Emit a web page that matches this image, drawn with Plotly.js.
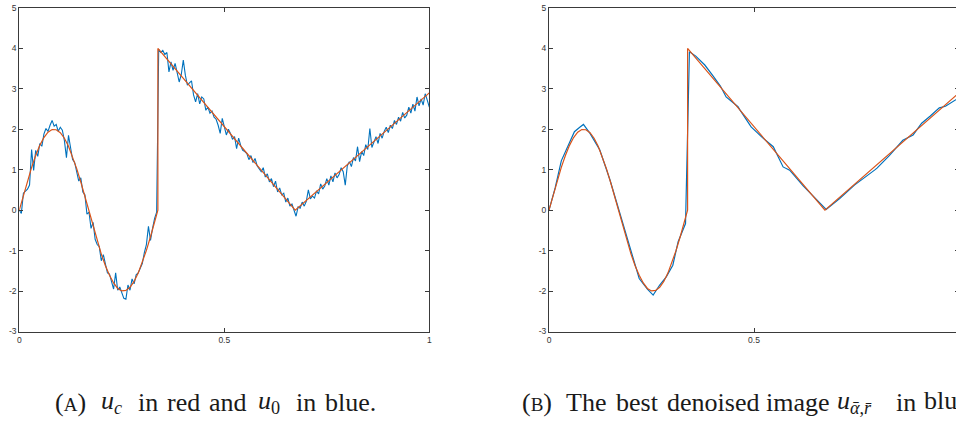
<!DOCTYPE html>
<html>
<head>
<meta charset="utf-8">
<script src="https://cdn.plot.ly/plotly-3.0.1.min.js"></script>
<style>
html, body { margin: 0; padding: 0; background: #fff; overflow: hidden; width: 956px; height: 421px; }
#chart { width: 962px; height: 421px; }
</style>
</head>
<body>
<div id="chart"></div>
<script>
// ---------- data ----------
const xTickVals = [0, 0.5, 1];
const xTickLabels = ["0", "0.5", "1"];
const xTickLabelsRight = ["0", "0.5", ""];   // the "1" of the right panel lies beyond the page edge
const yTickVals = [-3, -2, -1, 0, 1, 2, 3, 4, 5];
const yTickLabels = ["-3", "-2", "-1", "0", "1", "2", "3", "4", "5"];

// clean signal u_c (red)
const cleanX = [0, 0.01, 0.02, 0.03, 0.04, 0.05, 0.06, 0.07, 0.08, 0.09,
  0.10, 0.11, 0.12, 0.13, 0.14, 0.15, 0.16, 0.17, 0.18, 0.19,
  0.20, 0.21, 0.22, 0.23, 0.24, 0.25, 0.26, 0.27, 0.28, 0.29,
  0.30, 0.31, 0.32, 0.33, 0.335, 0.338, 0.338, 0.673, 1.0];
const cleanY = [0, 0.370, 0.727, 1.058, 1.354, 1.603, 1.796, 1.928, 1.993, 1.989,
  1.917, 1.779, 1.580, 1.327, 1.029, 0.698, 0.333, -0.037, -0.407, -0.760,
  -1.086, -1.372, -1.611, -1.800, -1.935, -1.996, -1.985, -1.906, -1.762, -1.556,
  -1.297, -0.995, -0.657, -0.296, -0.111, 0, 4.0, 0, 2.9];

// noisy signal u_0 (blue), sampled every 0.005 from 0 to 1
const noisyStart = 0;
const noisyStep = 0.005;
const noisyY = [
  0.00, -0.08, 0.42, 0.46, 0.52, 0.62, 1.50, 0.98, 1.48, 1.33,
  1.65, 1.58, 1.88, 2.02, 1.95, 2.10, 2.22, 2.08, 2.12, 1.95,
  2.05, 1.98, 1.72, 1.30, 1.85, 1.55, 1.25, 1.18, 0.95, 0.72,
  0.80, 0.45, 0.38, -0.10, -0.05, -0.45, -0.30, -0.72, -0.85, -0.90,
  -1.25, -1.10, -1.33, -1.55, -1.58, -1.78, -1.95, -1.55, -1.98, -1.90,
  -2.02, -2.18, -2.20, -1.85, -1.98, -1.70, -1.82, -1.60, -1.55, -1.45,
  -1.32, -1.05, -0.85, -0.40, -0.75, -0.45, -0.20, -0.05,
  3.98, 3.90, 3.95, 3.85, 3.90, 3.42, 3.67, 3.46, 3.63, 3.40,
  3.17, 3.35, 3.71, 3.34, 3.09, 3.15, 3.20, 2.85, 2.68, 2.88,
  2.63, 2.80, 2.75, 2.47, 2.55, 2.40, 2.45, 2.30, 2.25, 2.10,
  1.90, 2.27, 2.05, 1.86, 2.00, 1.90, 1.75, 1.82, 1.52, 1.78,
  1.60, 1.48, 1.45, 1.40, 1.25, 1.35, 1.18, 1.28, 1.10, 1.02,
  0.95, 1.05, 0.82, 0.90, 0.70, 0.78, 0.58, 0.72, 0.45, 0.55,
  0.38, 0.42, 0.20, 0.30, 0.10, 0.15, 0.02, -0.15, 0.08, 0.05,
  0.20, 0.10, 0.22, 0.50, 0.28, 0.35, 0.30, 0.48, 0.40, 0.65,
  0.52, 0.60, 0.78, 0.62, 0.85, 0.70, 0.92, 0.80, 0.88, 1.05,
  0.95, 0.62, 1.10, 1.20, 1.08, 1.30, 1.22, 1.57, 1.20, 1.45,
  1.35, 1.62, 1.50, 2.02, 1.55, 1.70, 1.82, 1.65, 1.90, 1.78,
  1.95, 2.05, 1.92, 2.10, 2.02, 2.22, 2.12, 2.30, 2.20, 2.42,
  2.28, 2.35, 2.55, 2.40, 2.62, 2.45, 2.80, 2.58, 2.75, 2.60,
  2.88, 2.72, 2.55];

// best denoised signal (blue, right panel)
const denoisedX = [0, 0.015, 0.03, 0.045, 0.062, 0.075, 0.084, 0.10, 0.124, 0.149,
  0.175, 0.196, 0.22, 0.24, 0.254, 0.27, 0.286, 0.302, 0.315, 0.333,
  0.3425, 0.358, 0.38, 0.40, 0.418, 0.432, 0.461, 0.4656, 0.493, 0.52,
  0.547, 0.571, 0.587, 0.62, 0.65, 0.676, 0.709, 0.745, 0.794, 0.80,
  0.83, 0.863, 0.888, 0.909, 0.93, 0.952, 0.967, 0.992, 1.0];
const denoisedY = [0.0, 0.55, 1.22, 1.55, 1.94, 2.05, 2.12, 1.90, 1.49, 0.74,
  -0.15, -0.91, -1.69, -1.95, -2.10, -1.85, -1.65, -1.36, -0.78, -0.33,
  3.92, 3.81, 3.59, 3.32, 3.07, 2.80, 2.56, 2.48, 2.06, 1.80,
  1.57, 1.07, 0.99, 0.60, 0.28, 0.02, 0.29, 0.62, 0.99, 1.04,
  1.35, 1.73, 1.86, 2.15, 2.33, 2.53, 2.57, 2.74, 2.78];

// ---------- styling ----------
const W = 962, H = 421;
const BLUE = "#0072BD", RED = "#D95319";
const axisCol = "#3a3a3a";
const tickFont = { family: "Liberation Sans, Arial, sans-serif", size: 8.5, color: "#333" };

function xAxis(domain, anchor, labels) {
  return {
    domain: domain, anchor: anchor, range: [0, 1],
    tickmode: "array", tickvals: xTickVals, ticktext: labels,
    ticks: "inside", ticklen: 4, tickwidth: 1, tickcolor: axisCol,
    showline: true, linecolor: axisCol, linewidth: 1, mirror: "ticks",
    showgrid: false, zeroline: false, tickfont: tickFont,
    automargin: false, fixedrange: true
  };
}
function yAxis(domain, anchor) {
  return {
    domain: domain, anchor: anchor, range: [-3, 5],
    tickmode: "array", tickvals: yTickVals, ticktext: yTickLabels,
    ticks: "inside", ticklen: 4, tickwidth: 1, tickcolor: axisCol,
    showline: true, linecolor: axisCol, linewidth: 1, mirror: "ticks",
    showgrid: false, zeroline: false, tickfont: tickFont,
    automargin: false, fixedrange: true
  };
}

const yDom = [(H - 331.5) / H, (H - 8) / H];

const traces = [
  { x0: noisyStart, dx: noisyStep, y: noisyY, type: "scatter", mode: "lines",
    line: { color: BLUE, width: 1.1 }, xaxis: "x", yaxis: "y", hoverinfo: "skip" },
  { x: cleanX, y: cleanY, type: "scatter", mode: "lines",
    line: { color: RED, width: 1.2 }, xaxis: "x", yaxis: "y", hoverinfo: "skip" },
  { x: denoisedX, y: denoisedY, type: "scatter", mode: "lines",
    line: { color: BLUE, width: 1.2 }, xaxis: "x2", yaxis: "y2", hoverinfo: "skip" },
  { x: cleanX, y: cleanY, type: "scatter", mode: "lines",
    line: { color: RED, width: 1.2 }, xaxis: "x2", yaxis: "y2", hoverinfo: "skip" }
];

const capFont = { family: "Liberation Serif, Times New Roman, serif", size: 26, color: "#1a1a1a" };
const capY = (H - 402) / H;
function cap(text, px) {
  return { text: text, x: px / W, y: capY, xref: "paper", yref: "paper",
    xanchor: "left", yanchor: "middle", showarrow: false, font: capFont };
}

const annotations = [
  cap("(<span style='font-size:19px'>A</span>)", 53),
  cap("<i>u</i><sub><i>c</i></sub>", 99),
  cap("in", 136),
  cap("red", 165),
  cap("and", 207),
  cap("<i>u</i><sub>0</sub>", 256),
  cap("in", 294),
  cap("blue.", 323),
  cap("(<span style='font-size:19px'>B</span>)", 520),
  cap("The", 564),
  cap("best", 614),
  cap("denoised", 665),
  cap("image", 764),
  cap("<i>u</i><sub><i>ᾱ</i>,<i>r̄</i></sub>", 835),
  cap("in", 894),
  cap("blue and <i>u</i><sub><i>c</i></sub> in red.", 922)
];

const layout = {
  width: W, height: H,
  margin: { l: 0, r: 0, t: 0, b: 0, pad: 0 },
  paper_bgcolor: "#ffffff", plot_bgcolor: "#ffffff",
  showlegend: false,
  xaxis: xAxis([19.3 / W, 429.3 / W], "y", xTickLabels),
  yaxis: yAxis(yDom, "x"),
  xaxis2: xAxis([549 / W, 959 / W], "y2", xTickLabelsRight),
  yaxis2: yAxis(yDom, "x2"),
  annotations: annotations
};

Plotly.newPlot("chart", traces, layout, { displayModeBar: false, staticPlot: true });
</script>
</body>
</html>
